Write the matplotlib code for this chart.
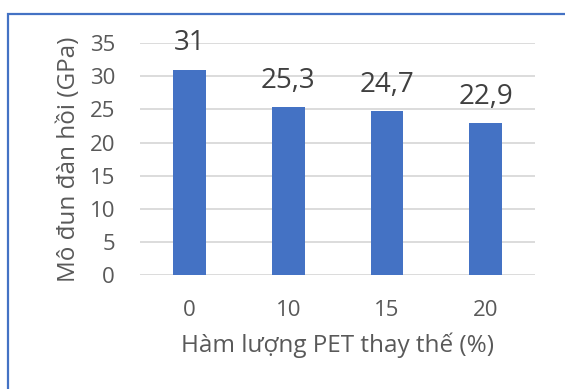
import matplotlib.pyplot as plt
from matplotlib.patches import Rectangle

# data
categories = ["0", "10", "15", "20"]
values = [31, 25.3, 24.7, 22.9]
value_labels = ["31", "25,3", "24,7", "22,9"]
y_ticks = [0, 5, 10, 15, 20, 25, 30, 35]

plt.rcParams['font.family'] = ['Open Sans', 'DejaVu Sans']
text_col = "#595959"

fig = plt.figure(figsize=(5.65, 3.89), dpi=100)
ax = fig.add_axes([0.248, 0.293, 0.699, 0.596])

x = range(len(categories))
ax.bar(x, values, width=0.33, color="#4472C4", zorder=3)

for xi, v, lab in zip(x, values, value_labels):
    ax.annotate(lab, (xi, v), xytext=(0, 14), textcoords="offset points",
                ha="center", va="baseline", fontsize=20, color="#404040")

ax.set_xlim(-0.5, len(categories) - 0.5)
ax.set_ylim(0, 35)
ax.set_yticks(y_ticks)
ax.set_xticks(list(x))
ax.set_xticklabels(categories)
ax.yaxis.grid(True, color="#D9D9D9", linewidth=1.3, zorder=0)
for s in ax.spines.values():
    s.set_visible(False)
ax.tick_params(length=0, labelsize=16, colors=text_col)
ax.tick_params(axis="y", pad=18)
ax.tick_params(axis="x", pad=18)

ax.set_xlabel("Hàm lượng PET thay thế (%)", fontsize=17.5, color=text_col, labelpad=8)
ax.set_ylabel("Mô đun đàn hồi (GPa)", fontsize=17.5, color=text_col, labelpad=6)

# outer border of the chart box
fig.patches.append(Rectangle((8 / 565, -0.05), 1.0, 1 - 14 / 389 + 0.05,
                             transform=fig.transFigure, fill=False,
                             edgecolor="#4472C4", linewidth=1.6))

fig.savefig("out.png", dpi=100)
